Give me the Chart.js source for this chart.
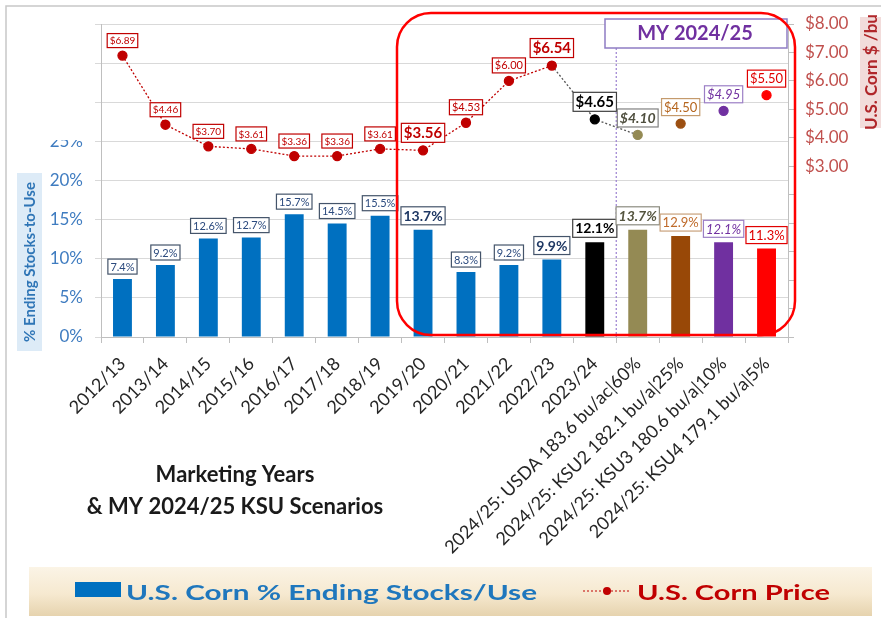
<!DOCTYPE html>
<html>
<head>
<meta charset="utf-8">
<script src="https://cdn.jsdelivr.net/npm/chart.js@4.4.1/dist/chart.umd.min.js"></script>
<style>
  html, body { margin: 0; padding: 0; background: #fff; }
  #wrap { width: 881px; height: 618px; }
</style>
</head>
<body>
<div id="wrap"><canvas id="chart" width="881" height="618"></canvas></div>
<script>
// marketing years + 2024/25 scenarios
const categories = [
  '2012/13', '2013/14', '2014/15', '2015/16', '2016/17', '2017/18', '2018/19', '2019/20',
  '2020/21', '2021/22', '2022/23', '2023/24',
  '2024/25: USDA 183.6 bu/ac|60%', '2024/25: KSU2 182.1 bu/a|25%',
  '2024/25: KSU3 180.6 bu/a|10%', '2024/25: KSU4 179.1 bu/a|5%'
];
const stocksToUse = [7.4, 9.2, 12.6, 12.7, 15.7, 14.5, 15.5, 13.7, 8.3, 9.2, 9.9, 12.1, 13.7, 12.9, 12.1, 11.3];
const cornPrice = [6.89, 4.46, 3.70, 3.61, 3.36, 3.36, 3.61, 3.56, 4.53, 6.00, 6.54, 4.65, 4.10, 4.50, 4.95, 5.50];
const pctTickLabels = ['0%', '5%', '10%', '15%', '20%', '25%'];
const priceTickLabels = ['$3.00', '$4.00', '$5.00', '$6.00', '$7.00', '$8.00'];

// colours / label looks per column
const BLUE = '#0070C0', RED = '#C00000';
const barColors = [BLUE, BLUE, BLUE, BLUE, BLUE, BLUE, BLUE, BLUE, BLUE, BLUE, BLUE, '#000000', '#948A54', '#984807', '#7030A0', '#FF0000'];
const pointColors = [RED, RED, RED, RED, RED, RED, RED, RED, RED, RED, RED, '#000000', '#948A54', '#9C4F12', '#7030A0', '#FF0000'];

const smallBar = { size: 11, bold: false, italic: false, color: '#2B4A7E', border: '#44546A' };
const bigBar = { size: 14, bold: true, italic: false, color: '#1F3864', border: '#44546A' };
const barTagStyle = [
  smallBar, smallBar, smallBar, smallBar, smallBar, smallBar, smallBar, bigBar,
  smallBar, smallBar, bigBar,
  { size: 14, bold: true, italic: false, color: '#000', border: '#404040' },
  { size: 14, bold: true, italic: true, color: '#55553F', border: '#8C8C80' },
  { size: 13, bold: false, italic: false, color: '#BF6A2A', border: '#C9A27C' },
  { size: 13, bold: false, italic: true, color: '#7030A0', border: '#9C7FC6' },
  { size: 13, bold: false, italic: false, color: '#E00000', border: '#E00000' }
];
const smallPx = { size: 10, bold: false, italic: false, color: RED, border: RED };
const midPx = { size: 11, bold: false, italic: false, color: RED, border: RED };
const bigPx = { size: 15, bold: true, italic: false, color: RED, border: RED };
const priceTagStyle = [
  smallPx, smallPx, smallPx, smallPx, smallPx, smallPx, smallPx, bigPx,
  midPx, midPx, bigPx,
  { size: 15, bold: true, italic: false, color: '#000', border: '#404040' },
  { size: 14, bold: true, italic: true, color: '#4F4F3F', border: '#808080' },
  { size: 13, bold: false, italic: false, color: '#B5651D', border: '#C49A6C' },
  { size: 13, bold: false, italic: true, color: '#7030A0', border: '#9C7FC6' },
  { size: 13, bold: false, italic: false, color: '#E00000', border: '#E00000' }
];

function tag(ctx, text, cx, bottom, st) {
  ctx.font = `${st.italic ? 'italic ' : ''}${st.bold ? 'bold ' : ''}${st.size}px Lato`;
  const w = ctx.measureText(text).width + 5;
  const h = st.size + 4;
  ctx.fillStyle = '#fff';
  ctx.fillRect(cx - w / 2, bottom - h, w, h);
  ctx.strokeStyle = st.border;
  ctx.lineWidth = 1.2;
  ctx.strokeRect(cx - w / 2, bottom - h, w, h);
  ctx.fillStyle = st.color;
  ctx.textAlign = 'center';
  ctx.textBaseline = 'middle';
  ctx.fillText(text, cx, bottom - h / 2 + 0.5);
}

function stretchText(ctx, text, x, y, font, color, width) {
  ctx.save();
  ctx.font = font;
  const w = ctx.measureText(text).width;
  ctx.translate(x, y);
  ctx.scale(width / w, 1);
  ctx.fillStyle = color;
  ctx.textAlign = 'left';
  ctx.textBaseline = 'alphabetic';
  ctx.fillText(text, 0, 0);
  ctx.restore();
}

const slide = {
  id: 'slide',
  beforeDraw(chart) {
    const ctx = chart.ctx;
    ctx.save();
    ctx.fillStyle = '#fff';
    ctx.fillRect(0, 0, chart.width, chart.height);
    // slide frame
    ctx.strokeStyle = '#C8C8C8';
    ctx.lineWidth = 1.5;
    ctx.beginPath();
    ctx.moveTo(6, 618); ctx.lineTo(6, 6); ctx.lineTo(881, 6);
    ctx.stroke();
    // axis title boxes
    ctx.fillStyle = '#DDEBF7';
    ctx.fillRect(17, 173, 25, 178);
    ctx.fillStyle = '#F2DCDB';
    ctx.fillRect(860, 17, 25, 111);
    ctx.restore();
  },
  afterDraw(chart) {
    const ctx = chart.ctx;
    const area = chart.chartArea;
    const x = chart.scales.x;
    ctx.save();

    // hide top of the 25% tick label
    ctx.fillStyle = '#fff';
    ctx.fillRect(44, 124, 46, 16);

    // axis titles
    ctx.save();
    ctx.translate(35, 262);
    ctx.rotate(-Math.PI / 2);
    ctx.font = 'bold 15px Lato';
    ctx.fillStyle = '#2E75B6';
    ctx.textAlign = 'center';
    ctx.textBaseline = 'alphabetic';
    ctx.fillText('% Ending Stocks-to-Use', 0, 0);
    ctx.restore();
    ctx.save();
    ctx.translate(877, 72);
    ctx.rotate(-Math.PI / 2);
    ctx.font = 'bold 17px Lato';
    ctx.fillStyle = '#B0262A';
    ctx.textAlign = 'center';
    ctx.textBaseline = 'alphabetic';
    ctx.fillText('U.S. Corn $ /bu', 0, 0);
    ctx.restore();

    // scenario divider + header box
    const divX = (x.getPixelForValue(11) + x.getPixelForValue(12)) / 2;
    ctx.strokeStyle = '#9A7FD0';
    ctx.lineWidth = 1.2;
    ctx.setLineDash([2, 2]);
    ctx.beginPath();
    ctx.moveTo(divX, 48); ctx.lineTo(divX, area.bottom);
    ctx.stroke();
    ctx.setLineDash([]);
    ctx.fillStyle = '#fff';
    ctx.fillRect(605, 19, 182, 29);
    ctx.strokeStyle = '#8E7CC3';
    ctx.lineWidth = 1.5;
    ctx.strokeRect(605, 19, 182, 29);
    ctx.font = 'bold 20px Lato';
    ctx.fillStyle = '#7030A0';
    ctx.textAlign = 'center';
    ctx.textBaseline = 'middle';
    ctx.fillText('MY 2024/25', 695, 34);

    // value tags
    const bars = chart.getDatasetMeta(0).data;
    bars.forEach((b, i) => tag(ctx, stocksToUse[i].toFixed(1) + '%', b.x, b.y - 5, barTagStyle[i]));
    const pts = chart.getDatasetMeta(1).data;
    pts.forEach((p, i) => tag(ctx, '$' + cornPrice[i].toFixed(2), p.x, p.y - 8, priceTagStyle[i]));

    // red highlight frame
    ctx.strokeStyle = '#FF0000';
    ctx.lineWidth = 2.5;
    ctx.beginPath();
    ctx.roundRect(397, 13, 398, 322, 34);
    ctx.stroke();

    // x axis caption
    ctx.font = 'bold 22px Lato';
    ctx.fillStyle = '#1A1A1A';
    ctx.textAlign = 'center';
    ctx.textBaseline = 'middle';
    ctx.fillText('Marketing Years', 235, 475);
    ctx.fillText('& MY 2024/25 KSU Scenarios', 235, 507);

    // legend band
    const g = ctx.createLinearGradient(0, 567, 0, 616);
    g.addColorStop(0, '#FBF4E6');
    g.addColorStop(0.55, '#F6E9D0');
    g.addColorStop(1, '#E6D3AE');
    ctx.fillStyle = g;
    ctx.fillRect(29, 567, 843, 49);
    ctx.fillStyle = BLUE;
    ctx.fillRect(75, 582, 46, 15);
    stretchText(ctx, 'U.S. Corn % Ending Stocks/Use', 126, 600, 'bold 20px Lato', '#1F77BD', 411);
    ctx.strokeStyle = RED;
    ctx.lineWidth = 1;
    ctx.setLineDash([2, 2]);
    ctx.beginPath();
    ctx.moveTo(583, 591); ctx.lineTo(630, 591);
    ctx.stroke();
    ctx.setLineDash([]);
    ctx.fillStyle = RED;
    ctx.beginPath();
    ctx.arc(607, 591, 4, 0, Math.PI * 2);
    ctx.fill();
    stretchText(ctx, 'U.S. Corn Price', 637, 600, 'bold 20px Lato', RED, 193);

    ctx.restore();
  }
};

new Chart(document.getElementById('chart'), {
  type: 'bar',
  data: {
    labels: categories,
    datasets: [
      {
        type: 'bar',
        label: 'U.S. Corn % Ending Stocks/Use',
        data: stocksToUse,
        backgroundColor: barColors,
        yAxisID: 'y',
        categoryPercentage: 1,
        barPercentage: 0.44,
        order: 2
      },
      {
        type: 'line',
        label: 'U.S. Corn Price',
        data: cornPrice,
        yAxisID: 'y1',
        borderColor: RED,
        borderWidth: 1.3,
        borderDash: [2, 2],
        pointBackgroundColor: pointColors,
        pointBorderColor: pointColors,
        pointRadius: 4.5,
        tension: 0,
        order: 1,
        segment: {
          borderColor: s => s.p0DataIndex >= 12 ? 'rgba(0,0,0,0)' : (s.p0DataIndex >= 10 ? '#555555' : RED)
        }
      }
    ]
  },
  options: {
    responsive: false,
    animation: false,
    layout: { padding: { top: 24, left: 0, right: 0, bottom: 0 } },
    plugins: { legend: { display: false }, tooltip: { enabled: false } },
    scales: {
      x: {
        afterFit: s => { s.height = 281; },
        grid: { display: true, drawOnChartArea: false, tickLength: 6, color: '#BFBFBF', offset: true },
        border: { color: '#BFBFBF' },
        ticks: {
          autoSkip: false, minRotation: 45, maxRotation: 45, padding: 10,
          color: '#262626', font: { family: 'Lato', size: 18 }
        }
      },
      y: {
        position: 'left',
        min: 0, max: 40,
        afterFit: s => { s.width = 101; },
        grid: { color: '#D9D9D9', tickLength: 6 },
        border: { color: '#BFBFBF' },
        ticks: {
          stepSize: 5, padding: 12, color: '#3F7CC0',
          font: { family: 'Lato', size: 17 },
          callback: v => pctTickLabels[v / 5] || ''
        }
      },
      y1: {
        position: 'right',
        min: -3, max: 8,
        afterFit: s => { s.width = 93; },
        grid: { drawOnChartArea: false, tickLength: 6, color: '#BFBFBF' },
        border: { color: '#BFBFBF' },
        ticks: {
          stepSize: 1, padding: 11, color: '#C0504D',
          font: { family: 'Lato', size: 17 },
          callback: v => priceTickLabels[v - 3] || ''
        }
      }
    }
  },
  plugins: [slide]
});
</script>
</body>
</html>
